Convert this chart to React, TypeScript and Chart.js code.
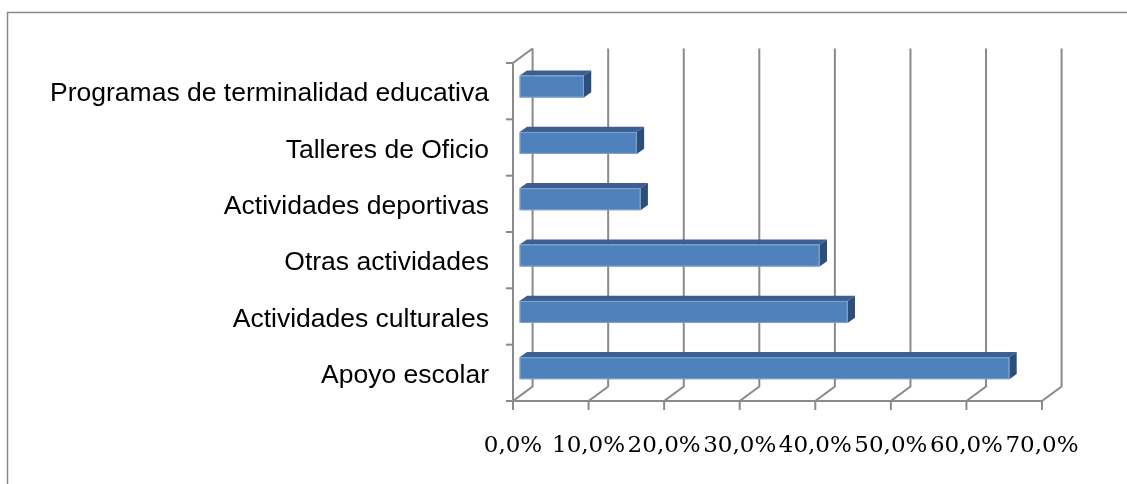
import React, { useEffect, useRef } from "react";
import { Chart, registerables } from "chart.js";

Chart.register(...registerables);

const categories = [
  "Programas de terminalidad educativa",
  "Talleres de Oficio",
  "Actividades deportivas",
  "Otras actividades",
  "Actividades culturales",
  "Apoyo escolar",
];
const values = [8.5, 15.5, 16.0, 39.7, 43.4, 64.8];
const xMin = 0;
const xMax = 70;
const xStep = 10;

const GRID = "#8a8a8a";
const WALL_DX = 19.6;
const WALL_DY = -14.5;
const BAR_FX = 6.6;
const BAR_FY = -4.6;
const BAR_DX = 7.4;
const BAR_DY = -5.2;

const frame3d = {
  id: "frame3d",
  beforeDraw(chart: any) {
    const { ctx, width, height } = chart;
    ctx.save();
    ctx.fillStyle = "#ffffff";
    ctx.fillRect(0, 0, width, height);
    ctx.strokeStyle = "#8a8a8a";
    ctx.lineWidth = 1.5;
    ctx.beginPath();
    ctx.moveTo(7.5, height);
    ctx.lineTo(7.5, 12.5);
    ctx.lineTo(width, 12.5);
    ctx.stroke();
    ctx.restore();
  },
  beforeDatasetsDraw(chart: any) {
    const { ctx, chartArea } = chart;
    const xs = chart.scales.x;
    const { left, top, bottom } = chartArea;
    ctx.save();
    ctx.strokeStyle = GRID;
    ctx.lineWidth = 2;
    ctx.lineCap = "butt";
    xs.ticks.forEach((t: any) => {
      const px = xs.getPixelForValue(t.value);
      ctx.beginPath();
      ctx.moveTo(px + WALL_DX, top + WALL_DY);
      ctx.lineTo(px + WALL_DX, bottom + WALL_DY);
      ctx.lineTo(px, bottom);
      ctx.lineTo(px, bottom + 9);
      ctx.stroke();
    });
    const right = xs.getPixelForValue(xMax);
    ctx.beginPath();
    ctx.moveTo(left - 7, bottom);
    ctx.lineTo(right, bottom);
    ctx.stroke();
    ctx.beginPath();
    ctx.moveTo(left + WALL_DX, top + WALL_DY);
    ctx.lineTo(left, top);
    ctx.lineTo(left, bottom);
    ctx.stroke();
    const n = categories.length;
    for (let i = 0; i <= n; i++) {
      const y = top + ((bottom - top) * i) / n;
      ctx.beginPath();
      ctx.moveTo(left - 7, y);
      ctx.lineTo(left, y);
      ctx.stroke();
    }
    ctx.restore();
  },
  afterDatasetsDraw(chart: any) {
    const { ctx } = chart;
    const meta = chart.getDatasetMeta(0);
    ctx.save();
    meta.data.forEach((el: any) => {
      const p = el.getProps(["x", "y", "base", "height"], true);
      const x0 = p.base + BAR_FX;
      const x1 = p.x + BAR_FX;
      const y0 = p.y - p.height / 2 + BAR_FY;
      const y1 = p.y + p.height / 2 + BAR_FY;
      ctx.fillStyle = "#3a5f90";
      ctx.beginPath();
      ctx.moveTo(x0, y0);
      ctx.lineTo(x1, y0);
      ctx.lineTo(x1 + BAR_DX, y0 + BAR_DY);
      ctx.lineTo(x0 + BAR_DX, y0 + BAR_DY);
      ctx.closePath();
      ctx.fill();
      ctx.fillStyle = "#2e4e7a";
      ctx.beginPath();
      ctx.moveTo(x1, y0);
      ctx.lineTo(x1 + BAR_DX, y0 + BAR_DY);
      ctx.lineTo(x1 + BAR_DX, y1 + BAR_DY);
      ctx.lineTo(x1, y1);
      ctx.closePath();
      ctx.fill();
      ctx.fillStyle = "#4f81bd";
      ctx.fillRect(x0, y0, x1 - x0, y1 - y0);
      ctx.strokeStyle = "#7fa3d2";
      ctx.lineWidth = 1;
      ctx.strokeRect(x0 + 0.5, y0 + 0.5, x1 - x0 - 1, y1 - y0 - 1);
    });
    ctx.restore();
  },
};

export default function App() {
  const ref = useRef<HTMLCanvasElement | null>(null);
  useEffect(() => {
    if (!ref.current) return;
    const chart = new Chart(ref.current, {
      type: "bar",
      data: {
        labels: categories,
        datasets: [
          {
            data: values,
            backgroundColor: "rgba(0,0,0,0)",
            borderWidth: 0,
            barPercentage: 0.39,
            categoryPercentage: 1,
          },
        ],
      },
      options: {
        indexAxis: "y",
        responsive: false,
        animation: false,
        devicePixelRatio: 1,
        layout: { padding: { top: 63, right: 85, bottom: 0, left: 0 } },
        plugins: { legend: { display: false }, tooltip: { enabled: false } },
        scales: {
          x: {
            type: "linear",
            min: xMin,
            max: xMax,
            grid: { display: false, drawTicks: false, tickLength: 0 },
            border: { display: false },
            ticks: {
              stepSize: xStep,
              autoSkip: false,
              maxRotation: 0,
              padding: 31,
              color: "#000000",
              font: { family: "'DejaVu Serif'", size: 23 },
              callback: (v: any) => Number(v).toFixed(1).replace(".", ",") + "%",
            },
            afterFit: (s: any) => {
              s.height = 83;
            },
          },
          y: {
            type: "category",
            grid: { display: false, drawTicks: false, tickLength: 0 },
            border: { display: false },
            ticks: {
              padding: 24,
              labelOffset: 3,
              autoSkip: false,
              color: "#000000",
              font: { family: "'Liberation Sans', Arial", size: 26.5 },
            },
            afterFit: (s: any) => {
              s.width = 513;
            },
          },
        },
      },
      plugins: [frame3d],
    });
    return () => chart.destroy();
  }, []);
  return (
    <div style={{ position: "fixed", left: 0, top: 0, width: 1127, height: 484, background: "#fff" }}>
      <canvas ref={ref} width={1127} height={484} style={{ display: "block" }} />
    </div>
  );
}
